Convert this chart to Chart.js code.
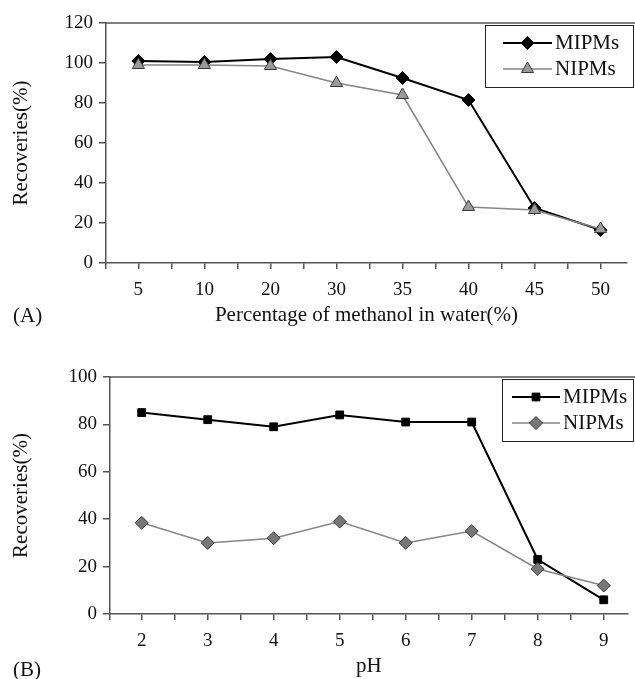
<!DOCTYPE html>
<html>
<head>
<meta charset="utf-8">
<script src="https://cdn.jsdelivr.net/npm/chart.js@4.4.1/dist/chart.umd.min.js"></script>
<style>
html, body { margin: 0; padding: 0; background: #fff; overflow: hidden; }
.box { position: absolute; left: 0; width: 635px; }
#boxA { top: 0; height: 330px; }
#boxB { top: 330px; height: 349px; }
</style>
</head>
<body>
<div class="box" id="boxA"><canvas id="chartA"></canvas></div>
<div class="box" id="boxB"><canvas id="chartB"></canvas></div>
<script>
// panel A: recovery vs methanol content
var methanolLabels = ['5', '10', '20', '30', '35', '40', '45', '50'];
var mipmsMethanol = [101, 100.5, 102, 103, 92.5, 81.5, 27.5, 16.5];
var nipmsMethanol = [99, 99, 98.5, 90, 84, 28, 26.5, 17];

// panel B: recovery vs pH
var phLabels = ['2', '3', '4', '5', '6', '7', '8', '9'];
var mipmsPh = [85, 82, 79, 84, 81, 81, 23, 6];
var nipmsPh = [38.5, 30, 32, 39, 30, 35, 19, 12];

var serif = "'Liberation Serif', 'Times New Roman', serif";
Chart.defaults.font.family = serif;
Chart.defaults.color = '#111';

function toPoints(values) {
  return values.map(function(v, i) { return { x: i, y: v }; });
}

var boxLegend = {
  id: 'boxLegend',
  afterDraw: function(chart, args, o) {
    var ctx = chart.ctx;
    var area = chart.chartArea;
    ctx.save();
    // top border of the plot area
    ctx.strokeStyle = '#555';
    ctx.lineWidth = 1.5;
    ctx.beginPath();
    ctx.moveTo(area.left, area.top);
    ctx.lineTo(chart.width, area.top);
    ctx.stroke();
    // legend box
    ctx.fillStyle = '#fff';
    ctx.fillRect(o.x, o.y, o.w, o.h);
    ctx.strokeStyle = '#222';
    ctx.lineWidth = 1;
    ctx.strokeRect(o.x + 0.5, o.y + 0.5, o.w, o.h);
    chart.data.datasets.forEach(function(ds, i) {
      var y = o.y + o.rowTop + i * o.rowGap;
      ctx.strokeStyle = ds.borderColor;
      ctx.lineWidth = ds.borderWidth;
      ctx.beginPath();
      ctx.moveTo(o.lineX0, y);
      ctx.lineTo(o.lineX1, y);
      ctx.stroke();
      ctx.fillStyle = ds.pointBackgroundColor;
      ctx.strokeStyle = ds.pointBorderColor;
      ctx.lineWidth = ds.pointBorderWidth;
      Chart.helpers.drawPoint(ctx, {
        pointStyle: ds.pointStyle,
        radius: ds.pointRadius,
        borderWidth: ds.pointBorderWidth,
        rotation: 0
      }, (o.lineX0 + o.lineX1) / 2, y);
      ctx.fillStyle = '#111';
      ctx.font = '21px ' + serif;
      ctx.textAlign = 'left';
      ctx.textBaseline = 'middle';
      ctx.fillText(ds.label, o.textX, y);
    });
    // panel tag
    ctx.fillStyle = '#111';
    ctx.font = '21px ' + serif;
    ctx.textAlign = 'left';
    ctx.textBaseline = 'middle';
    ctx.fillText(o.tag, o.tagX, o.tagY);
    ctx.restore();
  }
};

function makeChart(id, labels, mipms, nipms, cfg) {
  var ctx = document.getElementById(id).getContext('2d');
  return new Chart(ctx, {
    type: 'line',
    data: {
      datasets: [{
        label: 'MIPMs',
        data: toPoints(mipms),
        borderColor: '#000',
        borderWidth: 2,
        pointStyle: cfg.mStyle,
        pointRadius: cfg.mRadius,
        pointBackgroundColor: '#000',
        pointBorderColor: '#000',
        pointBorderWidth: 1,
        order: 2
      }, {
        label: 'NIPMs',
        data: toPoints(nipms),
        borderColor: '#858585',
        borderWidth: 1.5,
        pointStyle: cfg.nStyle,
        pointRadius: cfg.nRadius,
        pointBackgroundColor: cfg.nFill,
        pointBorderColor: '#3a3a3a',
        pointBorderWidth: 1,
        order: 1
      }]
    },
    plugins: [boxLegend],
    options: {
      responsive: true,
      maintainAspectRatio: false,
      devicePixelRatio: 1,
      animation: false,
      layout: { padding: { top: cfg.top, left: 0, right: 0, bottom: 0 } },
      plugins: {
        legend: { display: false },
        tooltip: { enabled: false },
        boxLegend: cfg.legend
      },
      scales: {
        x: {
          type: 'linear',
          min: cfg.xMin,
          max: cfg.xMax,
          afterBuildTicks: function(axis) {
            var t = [{ value: cfg.xMin }];
            for (var i = 0; i < labels.length; i++) {
              t.push({ value: i });
              if (i + 0.5 < cfg.xMax) t.push({ value: i + 0.5 });
            }
            axis.ticks = t;
          },
          afterFit: function(axis) { axis.height = cfg.xHeight; },
          ticks: {
            autoSkip: false,
            maxRotation: 0,
            padding: 10,
            font: { size: 19 },
            callback: function(v) {
              var r = Math.round(v);
              return Math.abs(v - r) < 1e-6 && labels[r] !== undefined ? labels[r] : '';
            }
          },
          grid: { drawOnChartArea: false, tickLength: 6, color: '#555', lineWidth: 1.5 },
          border: { color: '#555', width: 1.5 },
          title: {
            display: true,
            text: cfg.xTitle,
            font: { size: 21 },
            padding: { top: 0, bottom: cfg.xTitlePad }
          }
        },
        y: {
          min: 0,
          max: cfg.yMax,
          afterFit: function(axis) { axis.width = cfg.yWidth; },
          ticks: { stepSize: 20, padding: 6, font: { size: 19 } },
          grid: { drawOnChartArea: false, tickLength: 7, color: '#555', lineWidth: 1.5 },
          border: { color: '#555', width: 1.5 },
          title: {
            display: true,
            text: 'Recoveries(%)',
            font: { size: 21 },
            padding: { top: 9, bottom: 0 }
          }
        }
      }
    }
  });
}

makeChart('chartA', methanolLabels, mipmsMethanol, nipmsMethanol, {
  mStyle: 'rectRot', mRadius: 6.5,
  nStyle: 'triangle', nRadius: 7, nFill: '#9a9a9a',
  top: 23, yWidth: 106, xHeight: 67, yMax: 120,
  xMin: -0.49, xMax: 7.4,
  xTitle: 'Percentage of methanol in water(%)', xTitlePad: 1.5,
  legend: { x: 485, y: 25, w: 148, h: 62, rowTop: 18, rowGap: 26,
            lineX0: 503, lineX1: 552, textX: 555,
            tag: '(A)', tagX: 13, tagY: 316 }
});

makeChart('chartB', phLabels, mipmsPh, nipmsPh, {
  mStyle: 'rect', mRadius: 5.5,
  nStyle: 'rectRot', nRadius: 6.5, nFill: '#777',
  top: 47, yWidth: 110, xHeight: 65, yMax: 100,
  xMin: -0.48, xMax: 7.36,
  xTitle: 'pH', xTitlePad: 0,
  legend: { x: 502, y: 49, w: 131, h: 62, rowTop: 18, rowGap: 26,
            lineX0: 512, lineX1: 560, textX: 563,
            tag: '(B)', tagX: 13, tagY: 340 }
});
</script>
</body>
</html>
